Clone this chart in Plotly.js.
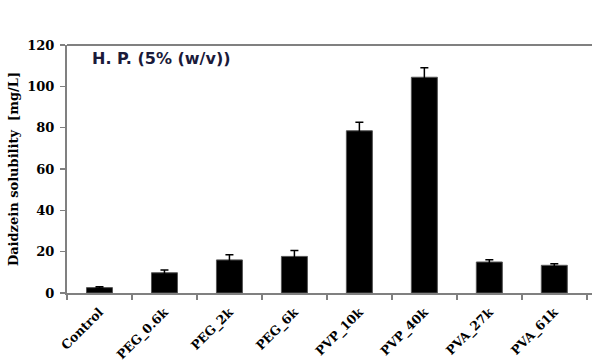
<!DOCTYPE html>
<html>
<head>
<meta charset="utf-8">
<script src="https://cdn.plot.ly/plotly-3.0.1.min.js"></script>
<style>html,body{margin:0;padding:0;background:#fff;}#chart{width:592px;height:364px;}</style>
</head>
<body>
<div id="chart"></div>
<script>
const categories = ["Control", "PEG_0.6k", "PEG_2k", "PEG_6k", "PVP_10k", "PVP_40k", "PVA_27k", "PVA_61k"];
const solubility = [2.6, 9.8, 16.0, 17.7, 78.5, 104.4, 15.0, 13.4];
const errors = [0.4, 1.3, 2.5, 2.9, 4.1, 4.6, 1.1, 0.8];
const yTicks = [0, 20, 40, 60, 80, 100, 120];

const trace = {
  type: "bar",
  x: categories,
  y: solubility,
  width: 0.4,
  marker: {color: "#000000", line: {color: "#555555", width: 1}},
  error_y: {type: "data", array: errors, visible: true, color: "#000000", thickness: 1.5, width: 4}
};

const serif = "DejaVu Serif, serif";
const layout = {
  width: 592, height: 364,
  margin: {l: 67, r: 0, t: 45, b: 71},
  paper_bgcolor: "#ffffff", plot_bgcolor: "#ffffff",
  showlegend: false,
  bargap: 0.6,
  xaxis: {
    type: "category",
    range: [-0.5, 7.58],
    showline: true, linecolor: "#808080", linewidth: 2,
    ticks: "outside", tickson: "boundaries", ticklen: 5, tickcolor: "#808080", tickwidth: 1.5,
    tickangle: -45,
    ticklabelstandoff: 5,
    tickfont: {family: serif, size: 12.5, color: "#000000", weight: "bold"},
    showgrid: false, zeroline: false,
    mirror: false
  },
  yaxis: {
    range: [0, 120],
    tickvals: yTicks,
    ticktext: yTicks.map(String),
    showline: true, linecolor: "#808080", linewidth: 2,
    ticks: "outside", ticklen: 5, tickcolor: "#808080", tickwidth: 1.5,
    ticklabelstandoff: 3,
    tickfont: {family: serif, size: 13, color: "#000000", weight: "bold"},
    showgrid: false, zeroline: false,
    title: {text: "Daidzein solubility  [mg/L]", font: {family: serif, size: 13, color: "#000000", weight: "bold"}, standoff: 6}
  },
  shapes: [
    {type: "line", xref: "paper", yref: "paper", x0: 0, x1: 1, y0: 1, y1: 1, line: {color: "#808080", width: 2}}
  ],
  annotations: [
    {text: "H. P. (5% (w/v))", xref: "paper", yref: "paper", x: 0.043, y: 0.99, xanchor: "left", yanchor: "top",
     showarrow: false, font: {family: "DejaVu Sans, sans-serif", size: 16, color: "#1a1a3a", weight: "bold"}}
  ]
};

Plotly.newPlot("chart", [trace], layout, {displayModeBar: false, staticPlot: true});
</script>
</body>
</html>
